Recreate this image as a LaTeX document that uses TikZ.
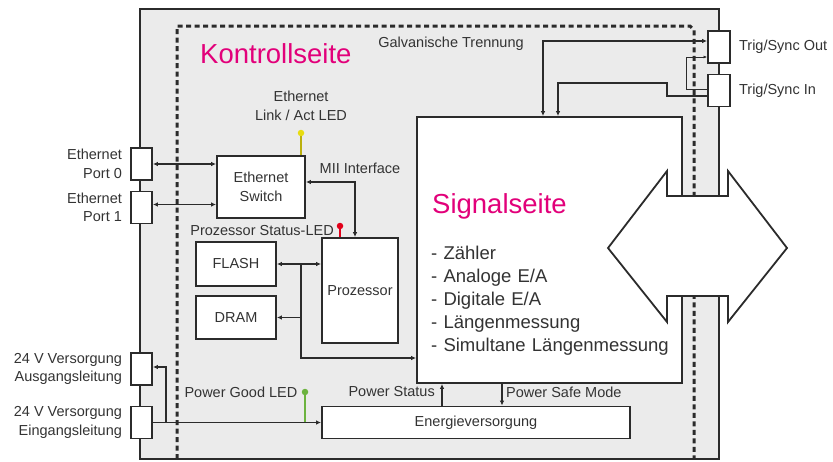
\documentclass[tikz,border=0pt]{standalone}
\usepackage{fontspec}
\setmainfont{Liberation Sans}
\usetikzlibrary{positioning, arrows.meta}
\definecolor{kmagenta}{HTML}{E2007A}
\definecolor{linegray}{HTML}{2B2B2B}
\definecolor{txtgray}{HTML}{333333}
\definecolor{housegray}{HTML}{EBEBEB}
\definecolor{ledyellow}{HTML}{E8DC10}
\definecolor{ledred}{HTML}{E2001A}
\definecolor{ledgreen}{HTML}{6CB33F}

\begin{document}
\begin{tikzpicture}[
            x=1pt, y=-1pt,
            >={Latex[length=5pt,width=4.5pt]},
            every node/.style={font=\fontsize{14.5}{18.5}\selectfont, text=txtgray},
            block/.style={rectangle, draw=linegray, line width=1.8pt, fill=white, inner sep=0pt},
            port/.style={block, minimum width=21pt, minimum height=32pt},
            link/.style={draw=linegray, line width=1.3pt},
            led/.style={circle, inner sep=0pt, minimum size=6.5pt},
            lbl/.style={align=center, inner sep=0pt},
            heading/.style={font=\fontsize{27.5}{30}\selectfont, text=kmagenta, inner sep=0pt},
        ]
            \useasboundingbox (0,0) rectangle (833,461);
            \draw[draw=linegray, line width=1.8pt, fill=housegray] (140,9) rectangle (719,459);
            \draw[draw=linegray, line width=3pt, dash pattern=on 5pt off 3.5pt]
                (177,459) -- (177,26) -- (690,26) -- (694,30) -- (694,459);

            \node[port] (port0) at (141.5,164) {};
            \node[port] (port1) at (141.5,207.5) {};
            \node[port] (out24) at (141.5,369) {};
            \node[port] (in24) at (141.5,422.5) {};
            \node[port, minimum width=22pt] (trigout) at (719,47) {};
            \node[port, minimum width=22pt] (trigin) at (719,90.5) {};

            \node[block, minimum width=88pt, minimum height=62pt, align=center] (switch) at (261,187) {Ethernet\\Switch};
            \node[block, minimum width=80pt, minimum height=44pt] (flash) at (236,264) {FLASH};
            \node[block, minimum width=80pt, minimum height=43pt] (dram) at (236,317.5) {DRAM};
            \node[block, minimum width=76pt, minimum height=105pt] (cpu) at (360,290.5) {Prozessor};
            \node[block, minimum width=265pt, minimum height=266pt] (signal) at (549.5,250) {};
            \node[block, minimum width=308pt, minimum height=32pt] (power) at (476,422.5) {Energieversorgung};

            \node[led, fill=ledyellow] (ethled) at (301,133) {};
            \node[led, fill=ledred] (cpuled) at (340,226) {};
            \node[led, fill=ledgreen] (pgled) at (305,392) {};
            \draw[draw=ledyellow!80!black, line width=1.3pt] (ethled) -- (ethled |- switch.north);
            \draw[draw=ledred, line width=1.3pt] (cpuled) -- (cpuled |- cpu.north);
            \draw[draw=ledgreen, line width=1.3pt] (pgled) -- (pgled |- power.west);

            \draw[link, <->] (port0.east) -- (port0.east -| switch.west);
            \draw[link, <->] ([yshift=3pt]port1.east) -- ([yshift=3pt]port1.east -| switch.west);
            \draw[link, <->] ([yshift=5pt]switch.east) -| ([xshift=-5pt]cpu.north);

            \coordinate (bus) at (301,358);
            \draw[link, <->] (flash.east) -- (flash.east -| cpu.west);
            \draw[link, ->] (flash.east -| bus) -- (bus) -- (bus -| signal.west);
            \draw[link, ->] (dram.east -| bus) -- (dram.east);

            \draw[link, <->] ([yshift=6pt]trigout.west) -| ([xshift=-6.5pt]signal.north);
            \draw[link, ->] ([yshift=-5.5pt]trigin.west) -- ++(-40,0) -- ++(0,-13) -| ([xshift=8.5pt]signal.north);
            \draw[draw=linegray, line width=0.8pt, -{Latex[length=3.5pt,width=3pt]}]
                ([yshift=1.5pt]trigin.west) -- ++(-21,0) |- ([yshift=-10pt]trigout.west);

            \coordinate (branch) at (166,422.5);
            \draw[link, ->] (in24.east) -- (in24.east -| power.west);
            \draw[link, ->] (branch) |- ([yshift=2pt]out24.east);
            \draw[link, ->] ([xshift=-34pt]power.north) -- ([xshift=-34pt]power.north |- signal.south);
            \draw[link, ->] ([xshift=26pt]power.north |- signal.south) -- ([xshift=26pt]power.north);

            \node[lbl, align=right, left=8pt of port0] {Ethernet\\Port 0};
            \node[lbl, align=right, left=8pt of port1] {Ethernet\\Port 1};
            \node[lbl, align=right, left=8pt of out24] {24 V Versorgung\\Ausgangsleitung};
            \node[lbl, align=right, left=8pt of in24] {24 V Versorgung\\Eingangsleitung};
            \node[lbl, align=left, right=8pt of trigout] {Trig/Sync Out};
            \node[lbl, align=left, right=8pt of trigin] {Trig/Sync In};
            \node[lbl, above=9pt of ethled] {Ethernet\\Link / Act LED};
            \node[lbl] (mii) at (360,168) {MII Interface};
            \node[lbl, anchor=east] (cpuledtext) at (334,231) {Prozessor Status-LED};
            \node[lbl, left=4pt of pgled] {Power Good LED};
            \node[lbl, anchor=east] (pstatus) at (435,392) {Power Status};
            \node[lbl, anchor=west] (psafe) at (506,392) {Power Safe Mode};
            \node[lbl] (galv) at (451,44) {Galvanische Trennung};

            \node[heading, anchor=base west] (kside) at (200,63) {Kontrollseite};
            \node[heading, anchor=base west] (sside) at (432,213) {Signalseite};
            \node[inner sep=0pt, text width=260pt, anchor=base west,
                font=\fontsize{18.5}{23}\selectfont] (features) at (431,259)
                {- Zähler\\- Analoge E/A\\- Digitale E/A\\- Längenmessung\\- Simultane Längenmessung};

            \fill[white] (667,196) rectangle (728,296);
            \draw[draw=linegray, line width=1.8pt, fill=white]
                (608,248) -- (667,171) -- (667,196) -- (728,196) -- (728,171) -- (787,248)
                -- (728,322) -- (728,296) -- (667,296) -- (667,322) -- cycle;
        \end{tikzpicture}
\end{document}
